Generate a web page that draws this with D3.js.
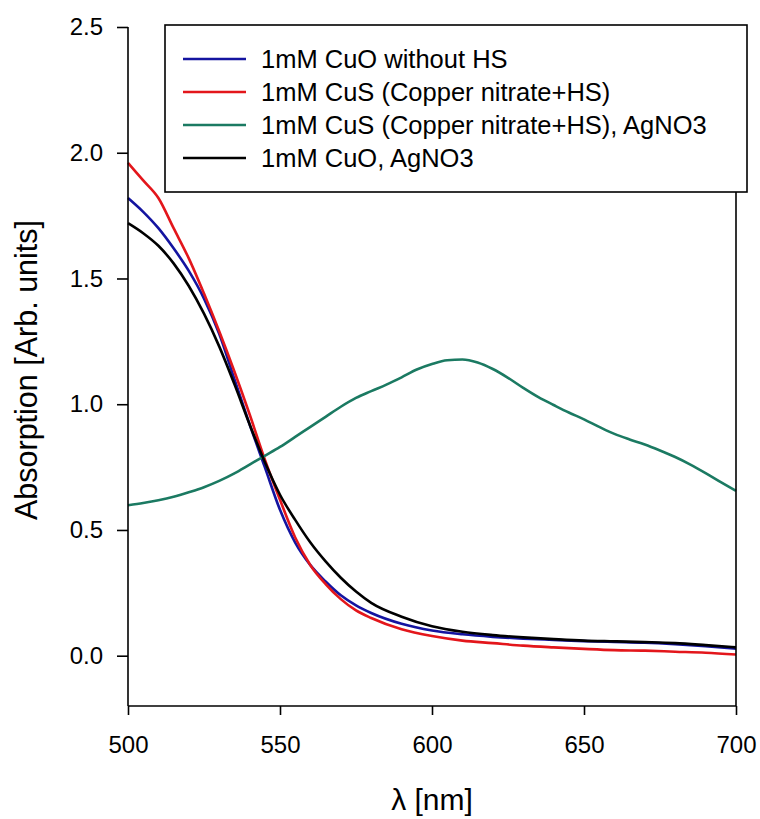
<!DOCTYPE html>
<html>
<head>
<meta charset="utf-8">
<script src="https://cdn.jsdelivr.net/npm/d3@7"></script>
<style>
	body { margin: 0; background: #fff; }
	svg { font-family: "Liberation Sans", Arial, sans-serif; }
</style>
</head>
<body>
<div id="chart"></div>
<script>
// wavelengths (nm) for the three CuO / CuS curves
const wlA = [500, 505, 510, 515, 520, 525, 530, 535, 540, 545, 550, 555, 560, 565, 570,
	575, 580, 590, 600, 610, 620, 630, 640, 650, 660, 670, 680, 690, 700];
const cuoNoHs = [1.82, 1.765, 1.70, 1.62, 1.53, 1.42, 1.28, 1.10, 0.92, 0.75, 0.58, 0.45, 0.36, 0.295, 0.24,
	0.20, 0.17, 0.127, 0.10, 0.085, 0.075, 0.068, 0.063, 0.058, 0.055, 0.052, 0.046, 0.038, 0.028];
const cusHs = [1.96, 1.89, 1.82, 1.70, 1.58, 1.44, 1.29, 1.13, 0.96, 0.78, 0.62, 0.47, 0.36, 0.285, 0.225,
	0.18, 0.15, 0.105, 0.078, 0.06, 0.05, 0.04, 0.033, 0.027, 0.022, 0.02, 0.016, 0.012, 0.005];
const cuoAg = [1.72, 1.68, 1.63, 1.56, 1.47, 1.36, 1.23, 1.08, 0.92, 0.77, 0.64, 0.54, 0.45, 0.375, 0.31,
	0.255, 0.21, 0.155, 0.117, 0.095, 0.082, 0.073, 0.066, 0.06, 0.057, 0.054, 0.05, 0.042, 0.033];

// wavelengths (nm) for the AgNO3 curve with the plasmon peak
const wlG = [500, 505, 510, 515, 520, 525, 530, 535, 540, 545, 550, 555, 560, 565, 570, 575, 580,
	585, 590, 595, 600, 605, 610, 615, 620, 625, 630, 635, 640, 645, 650, 655, 660, 665, 670,
	675, 680, 685, 690, 695, 700];
const cusHsAg = [0.598, 0.607, 0.618, 0.632, 0.65, 0.67, 0.695, 0.725, 0.76, 0.795, 0.83, 0.87, 0.91,
	0.95, 0.99, 1.025, 1.052, 1.078, 1.107, 1.138, 1.16, 1.175, 1.178, 1.166, 1.14, 1.105, 1.065,
	1.028, 0.997, 0.967, 0.94, 0.91, 0.882, 0.86, 0.84, 0.816, 0.79, 0.76, 0.726, 0.69, 0.655];

const seriesNames = ["1mM CuO without HS", "1mM CuS (Copper nitrate+HS)",
	"1mM CuS (Copper nitrate+HS), AgNO3", "1mM CuO, AgNO3"];
const seriesColors = ["#1414a0", "#e3161b", "#1b7a62", "#000000"];
const xTicks = [500, 550, 600, 650, 700];
const yTicks = [0.0, 0.5, 1.0, 1.5, 2.0, 2.5];

const series = [
	{name: seriesNames[0], color: seriesColors[0], x: wlA, y: cuoNoHs},
	{name: seriesNames[1], color: seriesColors[1], x: wlA, y: cusHs},
	{name: seriesNames[2], color: seriesColors[2], x: wlG, y: cusHsAg},
	{name: seriesNames[3], color: seriesColors[3], x: wlA, y: cuoAg}
];

const width = 760;
const height = 819;
const plotLeft = 128, plotRight = 736, plotTop = 27, plotBottom = 706;

const svg = d3.select("#chart")
	.append("svg")
	.attr("width", width)
	.attr("height", height);

const x = d3.scaleLinear().domain([500, 700]).range([plotLeft, plotRight]);
const y = d3.scaleLinear().domain([-0.2, 2.5]).range([plotBottom, plotTop]);

const line = d3.line()
	.x(d => x(d[0]))
	.y(d => y(d[1]))
	.curve(d3.curveMonotoneX);

// curves, drawn in legend order
svg.append("g")
	.selectAll("path")
	.data(series)
	.enter()
	.append("path")
	.attr("d", s => line(s.x.map((w, i) => [w, s.y[i]])))
	.attr("fill", "none")
	.attr("stroke", s => s.color)
	.attr("stroke-width", 2.6)
	.attr("stroke-linejoin", "round");

// right frame line
svg.append("line")
	.attr("x1", plotRight).attr("x2", plotRight)
	.attr("y1", plotTop).attr("y2", plotBottom)
	.attr("stroke", "#000")
	.attr("stroke-width", 1.6);

const xAxis = svg.append("g")
	.attr("transform", `translate(0,${plotBottom})`)
	.call(d3.axisBottom(x).tickValues(xTicks).tickSize(9).tickPadding(21).tickFormat(d3.format("d")));

const yAxis = svg.append("g")
	.attr("transform", `translate(${plotLeft},0)`)
	.call(d3.axisLeft(y).tickValues(yTicks).tickSize(11).tickPadding(14).tickFormat(d3.format(".1f")));

[xAxis, yAxis].forEach(g => {
	g.select(".domain").attr("stroke", "#000").attr("stroke-width", 1.6);
	g.selectAll(".tick line").attr("stroke", "#000").attr("stroke-width", 1.6);
	g.selectAll(".tick text")
		.attr("fill", "#000")
		.style("font-size", "24px")
		.style("font-family", "'Liberation Sans', Arial, sans-serif");
});
// axis paths from d3 carry outer ticks; redraw plain spines
xAxis.select(".domain").attr("d", `M${plotLeft},0H${plotRight}`);
yAxis.select(".domain").attr("d", `M0,${plotTop}V${plotBottom}`);

// axis titles
svg.append("text")
	.attr("x", (plotLeft + plotRight) / 2)
	.attr("y", 810)
	.attr("text-anchor", "middle")
	.style("font-size", "30px")
	.text("λ [nm]");

svg.append("text")
	.attr("transform", "translate(37,370) rotate(-90)")
	.attr("text-anchor", "middle")
	.style("font-size", "30.5px")
	.text("Absorption [Arb. units]");

// legend box
const legend = svg.append("g");
legend.append("rect")
	.attr("x", 165).attr("y", 25)
	.attr("width", 582).attr("height", 167)
	.attr("fill", "#fff")
	.attr("stroke", "#000")
	.attr("stroke-width", 1.6);

const rows = legend.selectAll("g.row")
	.data(series)
	.enter()
	.append("g")
	.attr("class", "row")
	.attr("transform", (d, i) => `translate(0,${59 + i * 33})`);

rows.append("line")
	.attr("x1", 183).attr("x2", 246)
	.attr("stroke", d => d.color)
	.attr("stroke-width", 2.6);

rows.append("text")
	.attr("x", 261)
	.attr("y", 9)
	.style("font-size", "25.5px")
	.text(d => d.name);
</script>
</body>
</html>
